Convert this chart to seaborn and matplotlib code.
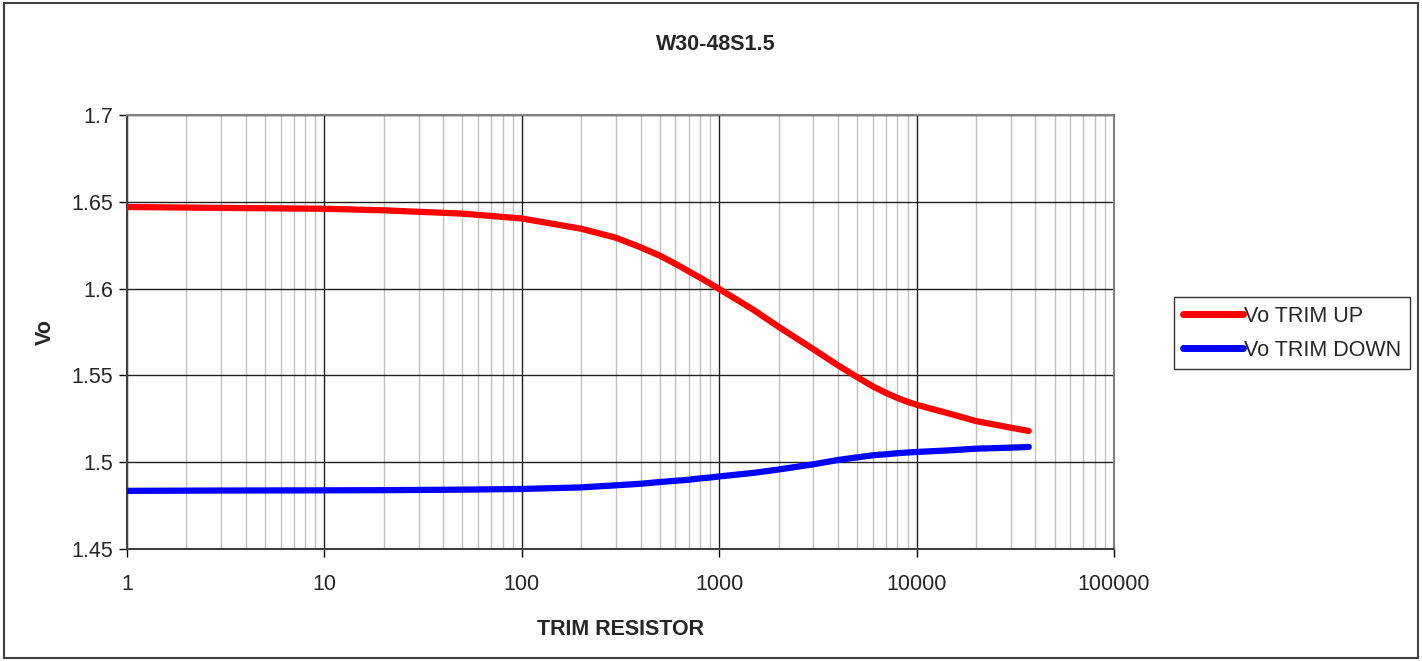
import numpy as np
import pandas as pd
import matplotlib
matplotlib.use("Agg")
import matplotlib.pyplot as plt
import seaborn as sns
from matplotlib.ticker import LogLocator, FixedLocator, NullFormatter

# values
trim_r = [1, 3, 10, 20, 50, 100, 200, 300, 400, 500, 600, 700, 800, 900, 1000, 1500, 2000,
          3000, 4000, 5000, 6000, 7000, 8000, 9000, 10000, 15000, 20000, 30000, 37000]
vo_up = [1.647, 1.6465, 1.646, 1.6451, 1.6432, 1.6404, 1.6345, 1.6293, 1.6238, 1.619,
         1.6143, 1.610, 1.6063, 1.6029, 1.5998, 1.5876, 1.578, 1.5651, 1.5558, 1.549,
         1.5437, 1.5399, 1.537, 1.5348, 1.5331, 1.5277, 1.5237, 1.5199, 1.518]
vo_down = [1.4835, 1.4837, 1.4838, 1.4839, 1.4842, 1.4846, 1.4855, 1.4867, 1.4876, 1.4886,
           1.4893, 1.4899, 1.4907, 1.4912, 1.4918, 1.4939, 1.4958, 1.4988, 1.5013, 1.5028,
           1.504, 1.5046, 1.5052, 1.5056, 1.5059, 1.5069, 1.5078, 1.5084, 1.5088]

x_ticks = [1, 10, 100, 1000, 10000, 100000]
y_ticks = [1.45, 1.5, 1.55, 1.6, 1.65, 1.7]

df = pd.concat([
    pd.DataFrame({"R": trim_r, "Vo": vo_up, "series": "Vo TRIM UP"}),
    pd.DataFrame({"R": trim_r, "Vo": vo_down, "series": "Vo TRIM DOWN"}),
])

sns.set_theme(style="white")
plt.rcParams["font.family"] = ["Liberation Sans", "DejaVu Sans"]
fs = 15.5

fig = plt.figure(figsize=(14.22, 6.61), dpi=100)
ax = fig.add_axes([0.0893, 0.1694, 0.6941, 0.6566])

sns.lineplot(data=df, x="R", y="Vo", hue="series",
             palette={"Vo TRIM UP": "#ff0000", "Vo TRIM DOWN": "#0000ff"},
             linewidth=4.5, ax=ax, solid_capstyle="round", solid_joinstyle="round", zorder=5)

ax.set_xscale("log")
ax.set_xlim(1, 100000)
ax.set_ylim(1.45, 1.7)
ax.set_yticks(y_ticks)
ax.set_yticklabels([f"{v:g}" for v in y_ticks])
ax.xaxis.set_major_locator(FixedLocator(x_ticks))
ax.set_xticklabels([str(v) for v in x_ticks])
ax.xaxis.set_minor_locator(LogLocator(base=10, subs=np.arange(2, 10), numticks=20))
ax.xaxis.set_minor_formatter(NullFormatter())

ax.grid(True, which="major", axis="both", color="#202020", linewidth=1.0)
ax.grid(True, which="minor", axis="x", color="#c0c0c0", linewidth=1.0)
ax.set_axisbelow(True)

ax.tick_params(axis="both", which="major", direction="out", length=6, width=1, color="black",
               labelsize=fs, bottom=True, left=True)
ax.tick_params(axis="x", pad=12)
ax.tick_params(axis="y", pad=4)
ax.tick_params(axis="x", which="minor", length=0)
for side in ["top", "right"]:
    ax.spines[side].set_color("#808080")
    ax.spines[side].set_linewidth(1.5)
for side in ["left", "bottom"]:
    ax.spines[side].set_color("#404040")
    ax.spines[side].set_linewidth(1.5)

ax.set_xlabel("TRIM RESISTOR", fontsize=fs, fontweight="bold", labelpad=17)
ax.set_ylabel("Vo", fontsize=fs, fontweight="bold", labelpad=11)
fig.text(0.5035, 0.933, "W30-48S1.5", ha="center", va="center", fontsize=fs, fontweight="bold")

leg = ax.legend(loc="upper left", bbox_to_anchor=(1174 / 1422, 1 - 297 / 661),
                bbox_transform=fig.transFigure, borderaxespad=0, frameon=True, fontsize=fs,
                handlelength=2.8, handletextpad=0.05, borderpad=0.4, labelspacing=0.6,
                fancybox=False)
leg.get_frame().set_edgecolor("black")
leg.get_frame().set_linewidth(1.0)
for line in leg.get_lines():
    line.set_linewidth(5)
    line.set_solid_capstyle("round")

fig.patches.append(plt.Rectangle((0.003, 0.004), 0.994, 0.992, transform=fig.transFigure,
                                 fill=False, edgecolor="#404040", linewidth=1.5))

fig.savefig("out.png", dpi=100)
